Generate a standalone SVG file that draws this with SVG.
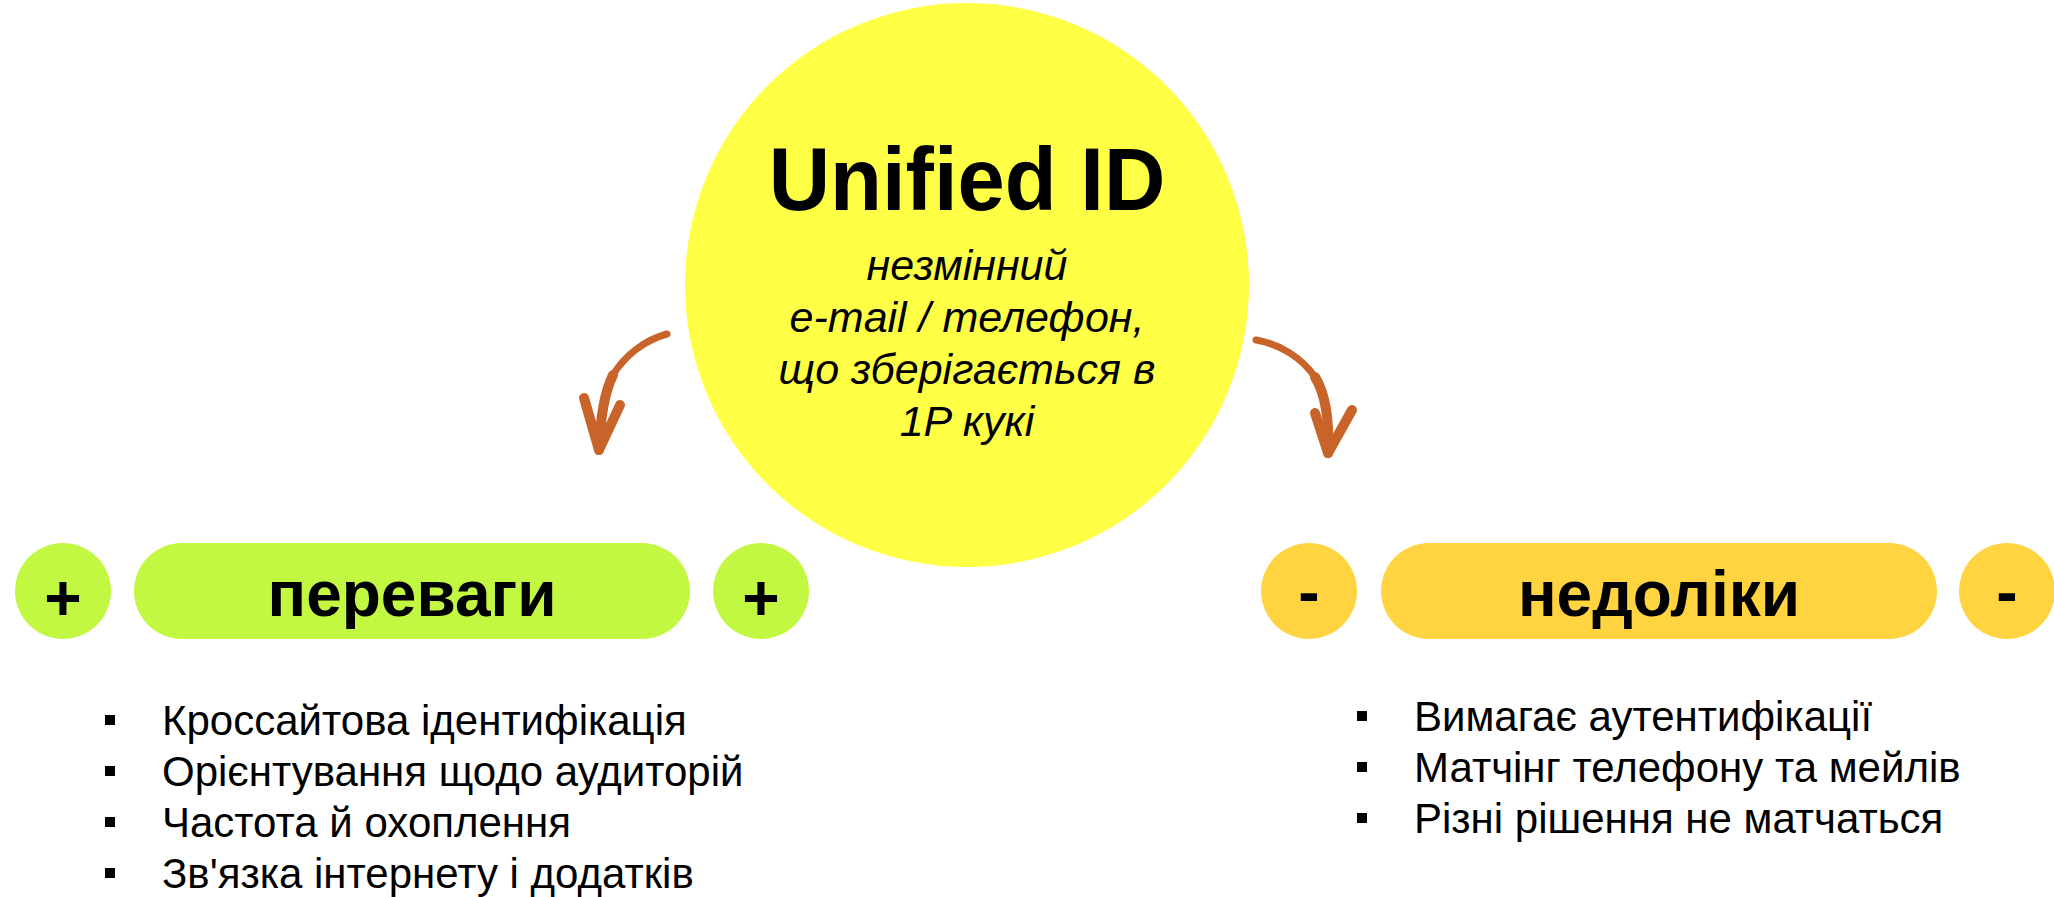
<svg xmlns="http://www.w3.org/2000/svg" width="2054" height="897" viewBox="0 0 2054 897">
<style>
.t{font-family:"Liberation Sans",Arial,sans-serif;fill:#000}
.title{font-size:85px;font-weight:bold;text-anchor:middle}
.sub{font-size:43px;font-style:italic;text-anchor:middle}
.lbl{font-size:64px;font-weight:bold;text-anchor:middle}
.li{font-size:42px}
.pro{fill:#C2F842}
.con{fill:#FFD440}
.arr{fill:none;stroke:#C8642A;stroke-linecap:round;stroke-linejoin:round}
.a1{stroke-width:7}
.a2{stroke-width:10}
</style>
<rect width="2054" height="897" fill="#fff"/>
<g id="center">
<circle cx="967" cy="285" r="282" fill="#FFFF45"/>
<text class="t title" transform="translate(967,210) scale(1,1.05)">Unified ID</text>
<text class="t sub" x="967" y="280">незмінний</text>
<text class="t sub" x="967" y="332">e-mail / телефон,</text>
<text class="t sub" x="967" y="384">що зберігається в</text>
<text class="t sub" x="967" y="436">1P кукі</text>
</g>
<g id="connectors">
<path class="arr a1" d="M667,334 C645,340 625,355 613,375"/>
<path class="arr a2" d="M613,375 C603,395 600,425 599,450"/>
<path class="arr a2" d="M584,398 L599,450 L620,405"/>
<path class="arr a1" d="M1256,340 C1280,344 1302,358 1315,377"/>
<path class="arr a2" d="M1315,377 C1328,398 1329,430 1328,453"/>
<path class="arr a2" d="M1315,413 L1328,453 L1352,410"/>
</g>
<g id="plus-left"><circle class="pro" cx="63" cy="591" r="48"/><text class="t lbl" x="63" y="620">+</text></g>
<g id="advantages"><rect class="pro" x="134" y="543" width="556" height="96" rx="48"/><text class="t lbl" x="412" y="616">переваги</text></g>
<g id="plus-right"><circle class="pro" cx="761" cy="591" r="48"/><text class="t lbl" x="761" y="620">+</text></g>
<g id="minus-left"><circle class="con" cx="1309" cy="591" r="48"/><text class="t lbl" x="1309" y="614">-</text></g>
<g id="disadvantages"><rect class="con" x="1381" y="543" width="556" height="96" rx="48"/><text class="t lbl" x="1659" y="616">недоліки</text></g>
<g id="minus-right"><circle class="con" cx="2007" cy="591" r="48"/><text class="t lbl" x="2007" y="614">-</text></g>
<g id="pros-list">
<rect x="105" y="715" width="10" height="10"/><text class="t li" x="162" y="735">Кроссайтова ідентифікація</text>
<rect x="105" y="766" width="10" height="10"/><text class="t li" x="162" y="786">Орієнтування щодо аудиторій</text>
<rect x="105" y="817" width="10" height="10"/><text class="t li" x="162" y="837">Частота й охоплення</text>
<rect x="105" y="868" width="10" height="10"/><text class="t li" x="162" y="888">Зв'язка інтернету і додатків</text>
</g>
<g id="cons-list">
<rect x="1357" y="711" width="10" height="10"/><text class="t li" x="1414" y="731">Вимагає аутентифікації</text>
<rect x="1357" y="762" width="10" height="10"/><text class="t li" x="1414" y="782">Матчінг телефону та мейлів</text>
<rect x="1357" y="813" width="10" height="10"/><text class="t li" x="1414" y="833">Різні рішення не матчаться</text>
</g>
</svg>
